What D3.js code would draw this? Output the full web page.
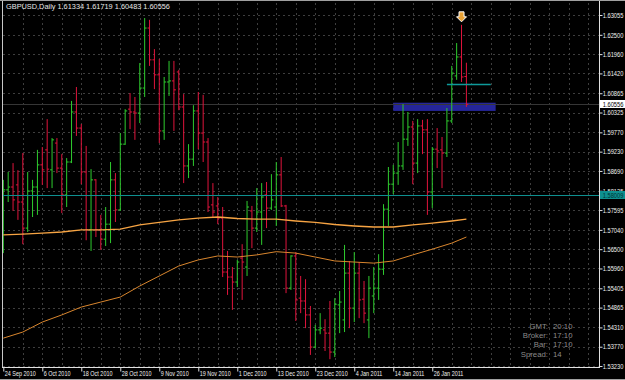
<!DOCTYPE html>
<html><head><meta charset="utf-8">
<script src="https://cdn.jsdelivr.net/npm/d3@7/dist/d3.min.js"></script>
<style>html,body{margin:0;padding:0;background:#000;overflow:hidden}</style>
</head><body><svg id="c" width="625" height="380"></svg>
<script>
const symbolTitle = "GBPUSD,Daily";
const open = [1.5774,1.5816,1.5824,1.5830,1.5782,1.5709,1.5813,1.5824,1.5886,1.5928,
1.5872,1.5947,1.5877,1.5802,1.5894,1.6034,1.5989,1.5866,1.5704,1.5844,
1.5704,1.5678,1.5720,1.5844,1.5760,1.5944,1.6042,1.6034,1.6031,1.6101,
1.6269,1.6180,1.6138,1.5981,1.6118,1.6121,1.6146,1.6048,1.5883,1.5902,
1.6037,1.5975,1.5950,1.5774,1.5771,1.5737,1.5586,1.5572,1.5558,1.5625,
1.5600,1.5757,1.5709,1.5754,1.5802,1.5765,1.5768,1.5858,1.5771,1.5541,
1.5631,1.5513,1.5505,1.5466,1.5376,1.5424,1.5424,1.5415,1.5362,1.5494,
1.5452,1.5583,1.5485,1.5583,1.5510,1.5452,1.5519,1.5541,1.5594,1.5762,
1.5832,1.5863,1.5883,1.5958,1.5992,1.5891,1.5995,1.5984,1.5810,1.5930,
1.5928,1.5919,1.6009,1.6135,1.6188,1.61334];
const high = [1.5844,1.5866,1.5891,1.5871,1.5919,1.5866,1.5844,1.5928,1.5936,1.6014,
1.5961,1.5961,1.5916,1.5905,1.6065,1.6104,1.6000,1.5939,1.5874,1.5846,
1.5746,1.5768,1.5894,1.5863,1.5975,1.6042,1.6087,1.6076,1.6171,1.6297,
1.6292,1.6210,1.6182,1.6132,1.6177,1.6177,1.6152,1.6084,1.5944,1.6053,
1.6090,1.6082,1.5961,1.5835,1.5796,1.5768,1.5645,1.5600,1.5620,1.5664,
1.5785,1.5771,1.5821,1.5835,1.5838,1.5860,1.5894,1.5908,1.5774,1.5633,
1.5642,1.5575,1.5566,1.5491,1.5438,1.5471,1.5454,1.5505,1.5513,1.5533,
1.5662,1.5617,1.5642,1.5614,1.5561,1.5575,1.5600,1.5636,1.5776,1.5880,
1.5886,1.5950,1.6056,1.6034,1.6009,1.6014,1.6012,1.6014,1.5936,1.5989,
1.5964,1.6045,1.6163,1.6227,1.6278,1.61719];
const low = [1.5639,1.5782,1.5757,1.5732,1.5664,1.5698,1.5740,1.5746,1.5830,1.5821,
1.5821,1.5863,1.5751,1.5768,1.5891,1.5967,1.5832,1.5675,1.5645,1.5684,
1.5648,1.5659,1.5667,1.5726,1.5757,1.5942,1.5986,1.5956,1.6003,1.6076,
1.6163,1.6098,1.5947,1.5956,1.6079,1.5981,1.6039,1.5835,1.5849,1.5883,
1.5930,1.5894,1.5754,1.5737,1.5720,1.5572,1.5522,1.5480,1.5544,1.5508,
1.5575,1.5653,1.5698,1.5662,1.5709,1.5760,1.5715,1.5768,1.5527,1.5536,
1.5449,1.5471,1.5429,1.5354,1.5373,1.5412,1.5365,1.5342,1.5348,1.5415,
1.5418,1.5429,1.5446,1.5457,1.5443,1.5401,1.5471,1.5508,1.5578,1.5715,
1.5804,1.5830,1.5872,1.5939,1.5832,1.5863,1.5916,1.5746,1.5765,1.5877,
1.5821,1.5908,1.6003,1.6124,1.6118,1.60483];
const close = [1.5816,1.5824,1.5788,1.5782,1.5709,1.5813,1.5824,1.5886,1.5872,1.5874,
1.5956,1.5877,1.5802,1.5894,1.6034,1.5989,1.5866,1.5704,1.5844,1.5704,
1.5678,1.5720,1.5844,1.5760,1.5944,1.6037,1.6034,1.6031,1.6101,1.6269,
1.6180,1.6138,1.5981,1.6118,1.6121,1.6096,1.6048,1.5883,1.5902,1.6037,
1.5975,1.5950,1.5768,1.5754,1.5737,1.5586,1.5572,1.5558,1.5614,1.5614,
1.5768,1.5709,1.5754,1.5796,1.5765,1.5788,1.5858,1.5771,1.5541,1.5631,
1.5508,1.5505,1.5466,1.5376,1.5424,1.5429,1.5415,1.5362,1.5496,1.5502,
1.5583,1.5485,1.5583,1.5508,1.5471,1.5541,1.5541,1.5594,1.5762,1.5832,
1.5863,1.5883,1.5958,1.5992,1.5891,1.5995,1.5984,1.5810,1.5930,1.5925,
1.5919,1.6009,1.6143,1.6188,1.6132,1.60556];

const maIdx = [0,4,8,12,16,20,24,28,32,36,40,44,48,52,56,60,64,68,72,76,80,84,88,92,95];
const maA = [1.5690,1.5692,1.5695,1.5698,1.5704,1.5704,1.5706,1.5718,1.5725,1.5732,1.5737,1.5740,1.5736,1.5734,1.5734,1.5729,1.5725,1.5719,1.5715,1.5712,1.5712,1.5718,1.5723,1.5729,1.5734];
const maB = [1.5401,1.5418,1.5446,1.5466,1.5488,1.5502,1.5516,1.5547,1.5575,1.5603,1.5620,1.5631,1.5628,1.5634,1.5643,1.5639,1.5628,1.5617,1.5614,1.5611,1.5617,1.5634,1.5650,1.5667,1.5684];

const priceTicks = [1.63055,1.62500,1.61960,1.61420,1.60865,1.60325,1.59770,1.59230,1.58690,1.58135,1.57595,1.57040,1.56500,1.55960,1.55405,1.54865,1.54310,1.53770,1.53230];
const dateLabels = ["24 Sep 2010","6 Oct 2010","18 Oct 2010","28 Oct 2010","9 Nov 2010","19 Nov 2010","1 Dec 2010","13 Dec 2010","23 Dec 2010","4 Jan 2011","14 Jan 2011","26 Jan 2011"];
const dateLabelIdx = [0,8,16,24,32,40,48,56,64,72,80,88];

const hLinePrice = 1.58009;
const shortLine = {price: 1.6112, from: 91, to: 100};
const zone = {from: 80, to: 101, top: 1.6060, bottom: 1.6037};
const arrowIdx = 94;
const infoLabels = ["GMT:","Broker:","Bar:","Spread:"];
const infoValues = ["20:10","17:10","17:10","14"];

const svg = d3.select("#c");
const L = 3, R = 599, T = 3, B = 367;
const FONT = "'Liberation Sans', Arial, sans-serif";
const SX = 0.82; // horizontal compression of the small axis font
svg.append("rect").attr("width",625).attr("height",380).attr("fill","#000");

const x = d3.scaleLinear().domain([0,95]).range([3.3,466.4]);
const y = d3.scaleLinear().domain([1.53230,1.63055]).range([366,15]);

svg.append("defs").append("clipPath").attr("id","clip")
  .append("rect").attr("x",L).attr("y",T).attr("width",R-L).attr("height",B-T);

const g = svg.append("g").attr("clip-path","url(#clip)");

// grid
g.selectAll(".hg").data(priceTicks).enter().append("line")
  .attr("x1",L).attr("x2",R)
  .attr("y1",d=>Math.round(y(d))+0.5).attr("y2",d=>Math.round(y(d))+0.5)
  .attr("stroke","#3e3e3e").attr("stroke-dasharray","2,3");
g.selectAll(".vg").data(d3.range(4,121,4)).enter().append("line")
  .attr("x1",d=>Math.round(x(d))+0.5).attr("x2",d=>Math.round(x(d))+0.5)
  .attr("y1",T).attr("y2",B)
  .attr("stroke","#3e3e3e").attr("stroke-dasharray","2,3");

// zone rectangle (background)
g.append("rect").attr("x",x(zone.from)).attr("width",x(zone.to)-x(zone.from))
  .attr("y",y(zone.top)).attr("height",y(zone.bottom)-y(zone.top))
  .attr("fill","#25259a");

// bid line
const lastClose = close[close.length-1];
g.append("line").attr("x1",L).attr("x2",R)
  .attr("y1",Math.round(y(lastClose))+0.5).attr("y2",Math.round(y(lastClose))+0.5)
  .attr("stroke","#363636");

// bars
const idx = d3.range(open.length);
g.selectAll(".bar").data(idx).enter().append("path")
  .attr("d",i=>{
    const xi = x(i);
    return `M${xi},${y(high[i])}V${y(low[i])}M${xi-2},${y(open[i])}H${xi}M${xi},${y(close[i])}H${xi+2}`;
  })
  .attr("fill","none")
  .attr("stroke",i=> close[i]>=open[i] ? "#2ecc2e" : "#e0143c")
  .attr("stroke-width",1);

// moving averages
const lineA = d3.line().x((d,k)=>x(maIdx[k])).y(d=>y(d));
g.append("path").attr("d",lineA(maA)).attr("fill","none").attr("stroke","#f7a443").attr("stroke-width",1.4);
g.append("path").attr("d",lineA(maB)).attr("fill","none").attr("stroke","#d9862e").attr("stroke-width",1);

// horizontal lines
g.append("line").attr("x1",L).attr("x2",R)
  .attr("y1",Math.round(y(hLinePrice))+0.5).attr("y2",Math.round(y(hLinePrice))+0.5)
  .attr("stroke","#0e8f8f");
g.append("line").attr("x1",x(shortLine.from)).attr("x2",x(shortLine.to))
  .attr("y1",Math.round(y(shortLine.price))+0.5).attr("y2",Math.round(y(shortLine.price))+0.5)
  .attr("stroke","#0e9a9a").attr("stroke-width",1.5);

// arrow
const ax = x(arrowIdx), ay = y(high[arrowIdx]) - 3;
g.append("path")
  .attr("d",`M${ax-2.5},${ay-10}h5v5h2.5l-5,5l-5,-5h2.5z`)
  .attr("fill","#e9a235").attr("stroke","#ffffff").attr("stroke-width",1);

// frame
svg.append("line").attr("x1",0).attr("x2",625).attr("y1",0.5).attr("y2",0.5).attr("stroke","#a0a0a0");
svg.append("line").attr("x1",0).attr("x2",625).attr("y1",379.5).attr("y2",379.5).attr("stroke","#a0a0a0");
svg.append("line").attr("x1",2.5).attr("x2",2.5).attr("y1",1).attr("y2",B).attr("stroke","#c8c8c8");
svg.append("line").attr("x1",R+0.5).attr("x2",R+0.5).attr("y1",1).attr("y2",B+0.5).attr("stroke","#e0e0e0");
svg.append("line").attr("x1",2).attr("x2",R+1).attr("y1",B+0.5).attr("y2",B+0.5).attr("stroke","#e0e0e0");

// price axis
const yAxis = d3.axisRight(y).tickValues(priceTicks).tickSize(3).tickPadding(0).tickFormat(d3.format(".5f"));
const ya = svg.append("g").attr("transform",`translate(${R+0.5},0)`).call(yAxis);
ya.select(".domain").remove();
ya.selectAll(".tick line").attr("stroke","#e0e0e0");
ya.selectAll(".tick text").attr("fill","#f0f0f0").attr("font-family",FONT).attr("font-size",7)
  .attr("x",3.2/SX).attr("transform",`scale(${SX},1)`);

// date axis
const xAxis = d3.axisBottom(x).tickValues(dateLabelIdx).tickSize(4).tickPadding(1)
  .tickFormat((d,k)=>dateLabels[k]);
const xa = svg.append("g").attr("transform",`translate(0,${B+0.5})`).call(xAxis);
xa.select(".domain").remove();
xa.selectAll(".tick line").attr("stroke","#e0e0e0");
xa.selectAll(".tick text").attr("fill","#f0f0f0").attr("font-family",FONT).attr("font-size",7)
  .attr("text-anchor","start").attr("x",1/0.78).attr("dy","0.55em").attr("transform","scale(0.78,1)");

// highlighted price labels
function priceTag(p, bg, fg){
  const yy = Math.round(y(p));
  svg.append("rect").attr("x",R+1).attr("y",yy-4).attr("width",625-R-1).attr("height",8).attr("fill",bg);
  svg.append("text").attr("transform",`translate(602.7,${yy+2.5}) scale(${SX},1)`).attr("fill",fg)
    .attr("font-family",FONT).attr("font-size",7)
    .text(d3.format(".5f")(p));
}
priceTag(hLinePrice,"#0e8f8f","#033");
priceTag(lastClose,"#ffffff","#000");

// title
svg.append("text").attr("transform","translate(6,9) scale(0.97,1)").attr("fill","#e8e8e8")
  .attr("font-family",FONT).attr("font-size",7.6)
  .text(`${symbolTitle}  ${d3.format(".5f")(open[95])} ${d3.format(".5f")(high[95])} ${d3.format(".5f")(low[95])} ${d3.format(".5f")(lastClose)}`);

// info block
const info = svg.append("g").attr("font-family",FONT).attr("font-size",7.8).attr("fill","#8a8a8a");
infoLabels.forEach((t,k)=>{
  info.append("text").attr("x",548).attr("y",329+k*9.2).attr("text-anchor","end").text(t);
  info.append("text").attr("x",553).attr("y",329+k*9.2).text(infoValues[k]);
});
</script>
</body></html>
